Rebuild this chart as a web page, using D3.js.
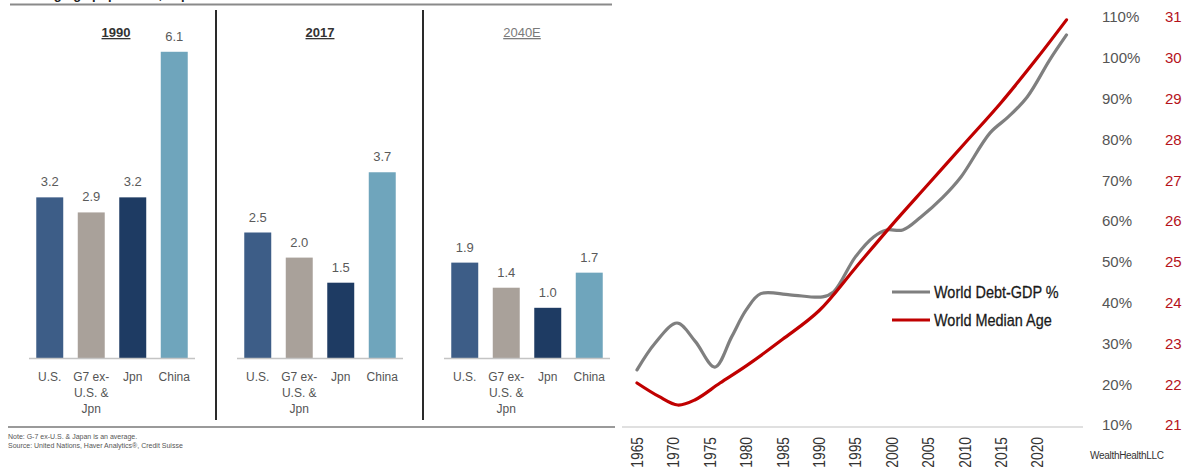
<!DOCTYPE html>
<html>
<head>
<meta charset="utf-8">
<script src="https://cdn.jsdelivr.net/npm/d3@7"></script>
<style>
  html, body { margin: 0; padding: 0; background: #fff; }
  svg { display: block; }
</style>
</head>
<body>
<svg id="chart" width="1188" height="467"></svg>
<script>
// ---- Working-age population growth (left panel) ----
const regions = ["U.S.", "G7 ex-U.S. & Jpn", "Jpn", "China"];
const regionLabelLines = [["U.S."], ["G7 ex-", "U.S. &", "Jpn"], ["Jpn"], ["China"]];
const periods = ["1990", "2017", "2040E"];
const growth1990 = [3.2, 2.9, 3.2, 6.1];
const growth2017 = [2.5, 2.0, 1.5, 3.7];
const growth2040E = [1.9, 1.4, 1.0, 1.7];
const regionColors = ["#3d5d87", "#a9a19a", "#1e3b63", "#6fa5bc"];
const noteLines = [
  "Note: G-7 ex-U.S. & Japan is an average.",
  "Source: United Nations, Haver Analytics\u00ae, Credit Suisse"
];

// ---- World debt vs. median age (right panel) ----
const debtYears  = [1965, 1967.5, 1970.5, 1973, 1975.7, 1978, 1980, 1982, 1986, 1990.5, 1992, 1995, 1997.5, 1999.3, 2001.5, 2004, 2007, 2009.5, 2013.5, 2016, 2018.6, 2021.7, 2024];
const debtValues = [23.5, 30.1, 35.0, 30.5, 24.2, 31.6, 38.2, 42.2, 41.9, 41.4, 42.6, 51.2, 56.1, 57.8, 57.8, 61.0, 65.8, 70.8, 81.6, 85.5, 90.4, 99.5, 105.6];
const ageYears   = [1965, 1968, 1970.6, 1973, 1976.4, 1980, 1985, 1990, 1995, 2000, 2005, 2010, 2015, 2020, 2024];
const ageValues  = [22.03, 21.7, 21.49, 21.62, 22.03, 22.45, 23.1, 23.8, 24.85, 25.9, 26.9, 27.9, 28.9, 30.0, 30.93];
const yearTicks  = [1965, 1970, 1975, 1980, 1985, 1990, 1995, 2000, 2005, 2010, 2015, 2020];
const pctTicks   = [10, 20, 30, 40, 50, 60, 70, 80, 90, 100, 110];
const ageTicks   = [21, 22, 23, 24, 25, 26, 27, 28, 29, 30, 31];
const seriesNames = ["World Debt-GDP %", "World Median Age"];

const svg = d3.select("#chart");
const sans = "'Liberation Sans', Arial, sans-serif";

// ================= Left: grouped panels =================
const left = svg.append("g");

// header text (runs off the top edge) and rules
left.append("text")
  .attr("x", 10).attr("y", -1)
  .attr("font-family", sans).attr("font-size", 13).attr("font-weight", "bold")
  .attr("fill", "#222")
  .text("Working-age population, % per decade");
left.append("line").attr("x1", 10).attr("x2", 612).attr("y1", 4.5).attr("y2", 4.5)
  .attr("stroke", "#8a8a8a").attr("stroke-width", 2);
left.append("line").attr("x1", 8).attr("x2", 615).attr("y1", 427).attr("y2", 427)
  .attr("stroke", "#9a9a9a").attr("stroke-width", 2);

const barY = d3.scaleLinear().domain([0, 7]).range([358, 6.6]);
const panelData = [growth1990, growth2017, growth2040E];
const panelStarts = [29, 237, 444];
const panelWidth = 166;

periods.forEach((p, i) => {
  const x = d3.scaleBand().domain(regions)
    .range([panelStarts[i], panelStarts[i] + panelWidth])
    .paddingInner(0.35).paddingOuter(0.175);
  const g = left.append("g");
  const rows = regions.map((r, k) => ({ region: r, value: panelData[i][k], color: regionColors[k], lines: regionLabelLines[k] }));

  g.selectAll("rect").data(rows).join("rect")
    .attr("x", d => x(d.region))
    .attr("width", x.bandwidth())
    .attr("y", d => barY(d.value))
    .attr("height", d => barY(0) - barY(d.value))
    .attr("fill", d => d.color);

  g.selectAll("text.val").data(rows).join("text").attr("class", "val")
    .attr("x", d => x(d.region) + x.bandwidth() / 2)
    .attr("y", d => barY(d.value) - 11)
    .attr("text-anchor", "middle")
    .attr("font-family", sans).attr("font-size", 13)
    .attr("fill", "#5a5a5a")
    .text(d => d.value.toFixed(1));

  // baseline
  g.append("line")
    .attr("x1", panelStarts[i]).attr("x2", panelStarts[i] + panelWidth)
    .attr("y1", barY(0) + 0.5).attr("y2", barY(0) + 0.5)
    .attr("stroke", "#c4c4c4").attr("stroke-width", 1.5);

  // category labels
  rows.forEach(d => {
    const t = g.append("text")
      .attr("text-anchor", "middle")
      .attr("font-family", sans).attr("font-size", 12)
      .attr("fill", "#555");
    d.lines.forEach((ln, j) => {
      t.append("tspan")
        .attr("x", x(d.region) + x.bandwidth() / 2)
        .attr("y", 381 + j * 16)
        .text(ln);
    });
  });

  // panel title
  const cx = panelStarts[i] + panelWidth / 2 + (i === 0 ? 4 : i === 2 ? -5 : 0);
  const last = i === periods.length - 1;
  g.append("text")
    .attr("x", cx).attr("y", 37)
    .attr("text-anchor", "middle")
    .attr("font-family", sans).attr("font-size", 13)
    .attr("font-weight", last ? "normal" : "bold")
    .attr("fill", last ? "#7a7a7a" : "#333")
    .attr("text-decoration", "underline")
    .text(p);
});

// panel dividers
[216, 423].forEach(xv => {
  left.append("line").attr("x1", xv).attr("x2", xv).attr("y1", 10).attr("y2", 420)
    .attr("stroke", "#2a2a2a").attr("stroke-width", 2);
});

left.selectAll("text.note").data(noteLines).join("text").attr("class", "note")
  .attr("x", 8).attr("y", (d, i) => 439 + i * 9)
  .attr("font-family", sans).attr("font-size", 7)
  .attr("fill", "#555")
  .text(d => d);

// ================= Right: debt vs. median age =================
const right = svg.append("g");
const x = d3.scaleLinear().domain([1965, 2024]).range([637, 1066.5]);
const yPct = d3.scaleLinear().domain([10, 110]).range([425, 17]);
const yAge = d3.scaleLinear().domain([21, 31]).range([425, 17]);

right.append("line").attr("x1", 622).attr("x2", 1083).attr("y1", 427).attr("y2", 427)
  .attr("stroke", "#d6d6d6").attr("stroke-width", 1.5);

// rotated year labels, condensed along the reading direction
right.selectAll("text.year").data(yearTicks).join("text").attr("class", "year")
  .attr("transform", d => `translate(${x(d)},437) rotate(-90) scale(0.92,1.1)`)
  .attr("text-anchor", "end").attr("dy", "0.36em")
  .attr("font-family", sans).attr("font-size", 15)
  .attr("fill", "#333")
  .text(d => d);

right.selectAll("text.pct").data(pctTicks).join("text").attr("class", "pct")
  .attr("x", 1102).attr("y", d => yPct(d)).attr("dy", "0.36em")
  .attr("font-family", sans).attr("font-size", 15)
  .attr("fill", "#555")
  .text(d => d + "%");

right.selectAll("text.age").data(ageTicks).join("text").attr("class", "age")
  .attr("x", 1165).attr("y", d => yAge(d)).attr("dy", "0.36em")
  .attr("font-family", sans).attr("font-size", 15)
  .attr("fill", "#b5121b")
  .text(d => d);

const debtLine = d3.line().x(d => x(d[0])).y(d => yPct(d[1])).curve(d3.curveCatmullRom.alpha(0.5));
const ageLine = d3.line().x(d => x(d[0])).y(d => yAge(d[1])).curve(d3.curveCatmullRom.alpha(0.5));

right.append("path")
  .datum(debtYears.map((yr, i) => [yr, debtValues[i]]))
  .attr("d", debtLine)
  .attr("fill", "none").attr("stroke", "#7f7f7f").attr("stroke-width", 3.2)
  .attr("stroke-linecap", "round");

right.append("path")
  .datum(ageYears.map((yr, i) => [yr, ageValues[i]]))
  .attr("d", ageLine)
  .attr("fill", "none").attr("stroke", "#c00000").attr("stroke-width", 3.2)
  .attr("stroke-linecap", "round");

// legend
const legendColors = ["#7f7f7f", "#c00000"];
const legend = right.append("g");
seriesNames.forEach((name, i) => {
  const ly = 292 + i * 28;
  legend.append("line").attr("x1", 892).attr("x2", 930).attr("y1", ly).attr("y2", ly)
    .attr("stroke", legendColors[i]).attr("stroke-width", 3.2);
  legend.append("text")
    .attr("transform", `translate(934,${ly}) scale(0.85,1)`)
    .attr("dy", "0.36em")
    .attr("font-family", sans).attr("font-size", 17)
    .attr("fill", "#1a1a1a")
    .attr("stroke", "#1a1a1a").attr("stroke-width", 0.3)
    .text(name);
});

right.append("text")
  .attr("x", 1090).attr("y", 459)
  .attr("font-family", sans).attr("font-size", 10)
  .attr("letter-spacing", -0.3)
  .attr("fill", "#333")
  .text("WealthHealthLLC");
</script>
</body>
</html>
